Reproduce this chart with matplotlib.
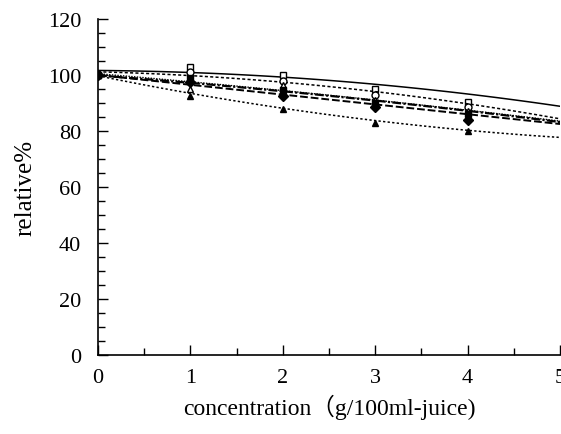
import numpy as np
import matplotlib
matplotlib.use("Agg")
import matplotlib.pyplot as plt
from matplotlib.ticker import MultipleLocator

plt.rcParams["font.family"] = ["Liberation Serif", "Noto Sans CJK SC"]

conc = [0, 1, 2, 3, 4]
conc_line = [0, 1, 2, 3, 4, 5]

# measured relative activity (%) for each additive series
open_square = [100, 103, 100, 95, 90.5]
open_circle = [100, 101, 98, 93, 88.5]
open_triangle = [100, 95, 96.5, 91, 87]
filled_square = [100, 99, 94.5, 90, 86]
filled_diamond = [100, 97.5, 92.5, 88.5, 84]
filled_triangle = [100, 92.5, 88, 83, 80]

# trend lines drawn through each series
trend_open_square = [101.5, 101, 99.5, 96.5, 93, 89]
trend_open_circle = [101, 100, 97.5, 94, 89.5, 84.5]
trend_open_triangle = [100.5, 97.5, 94.5, 91, 87.5, 83.5]
trend_filled_square = [100, 97, 94, 91, 87.5, 83]
trend_filled_diamond = [100, 96.5, 93, 89.5, 86, 82.5]
trend_filled_triangle = [100, 93, 88, 84, 80.5, 77.5]

series = [
    (open_square, trend_open_square, "s", "white", "-", 1.1),
    (open_circle, trend_open_circle, "o", "white", (0, (2, 1.5)), 1.1),
    (open_triangle, trend_open_triangle, "^", "white", (0, (1, 1)), 1.0),
    (filled_square, trend_filled_square, "s", "black", (0, (4, 1, 1, 1)), 1.6),
    (filled_diamond, trend_filled_diamond, "D", "black", (0, (4, 1.5)), 1.4),
    (filled_triangle, trend_filled_triangle, "^", "black", (0, (1.5, 1.5)), 1.1),
]

fig = plt.figure(figsize=(5.61, 4.35), dpi=100)
ax = fig.add_axes([0.1747, 0.1816, 0.8235, 0.7724])

xs = np.linspace(0, 5, 100)
for vals, trend, mk, fc, ls, lw in series:
    coef = np.polyfit(conc_line, trend, 2)
    ax.plot(xs, np.polyval(coef, xs), color="black", linestyle=ls, linewidth=lw)
    ax.plot(conc, vals, linestyle="none", marker=mk, markersize=5,
            markerfacecolor=fc, markeredgecolor="black", markeredgewidth=1.0)

ax.set_xlim(0, 5)
ax.set_ylim(0, 120)
ax.xaxis.set_major_locator(MultipleLocator(1))
ax.xaxis.set_minor_locator(MultipleLocator(0.5))
ax.yaxis.set_major_locator(MultipleLocator(20))
ax.yaxis.set_minor_locator(MultipleLocator(5))
ax.tick_params(which="both", direction="in", labelsize=16, width=1.0)
ax.tick_params(which="major", length=7)
ax.tick_params(which="minor", length=5)
ax.tick_params(axis="x", pad=9)
ax.tick_params(axis="y", pad=12)
for side in ("top", "right"):
    ax.spines[side].set_visible(False)
for side in ("left", "bottom"):
    ax.spines[side].set_linewidth(1.2)

ax.set_ylabel("relative%", fontsize=18, labelpad=8)
ax.set_xlabel("concentration（g/100ml-juice)", fontsize=17, labelpad=5)

fig.savefig("out.png", dpi=100)
